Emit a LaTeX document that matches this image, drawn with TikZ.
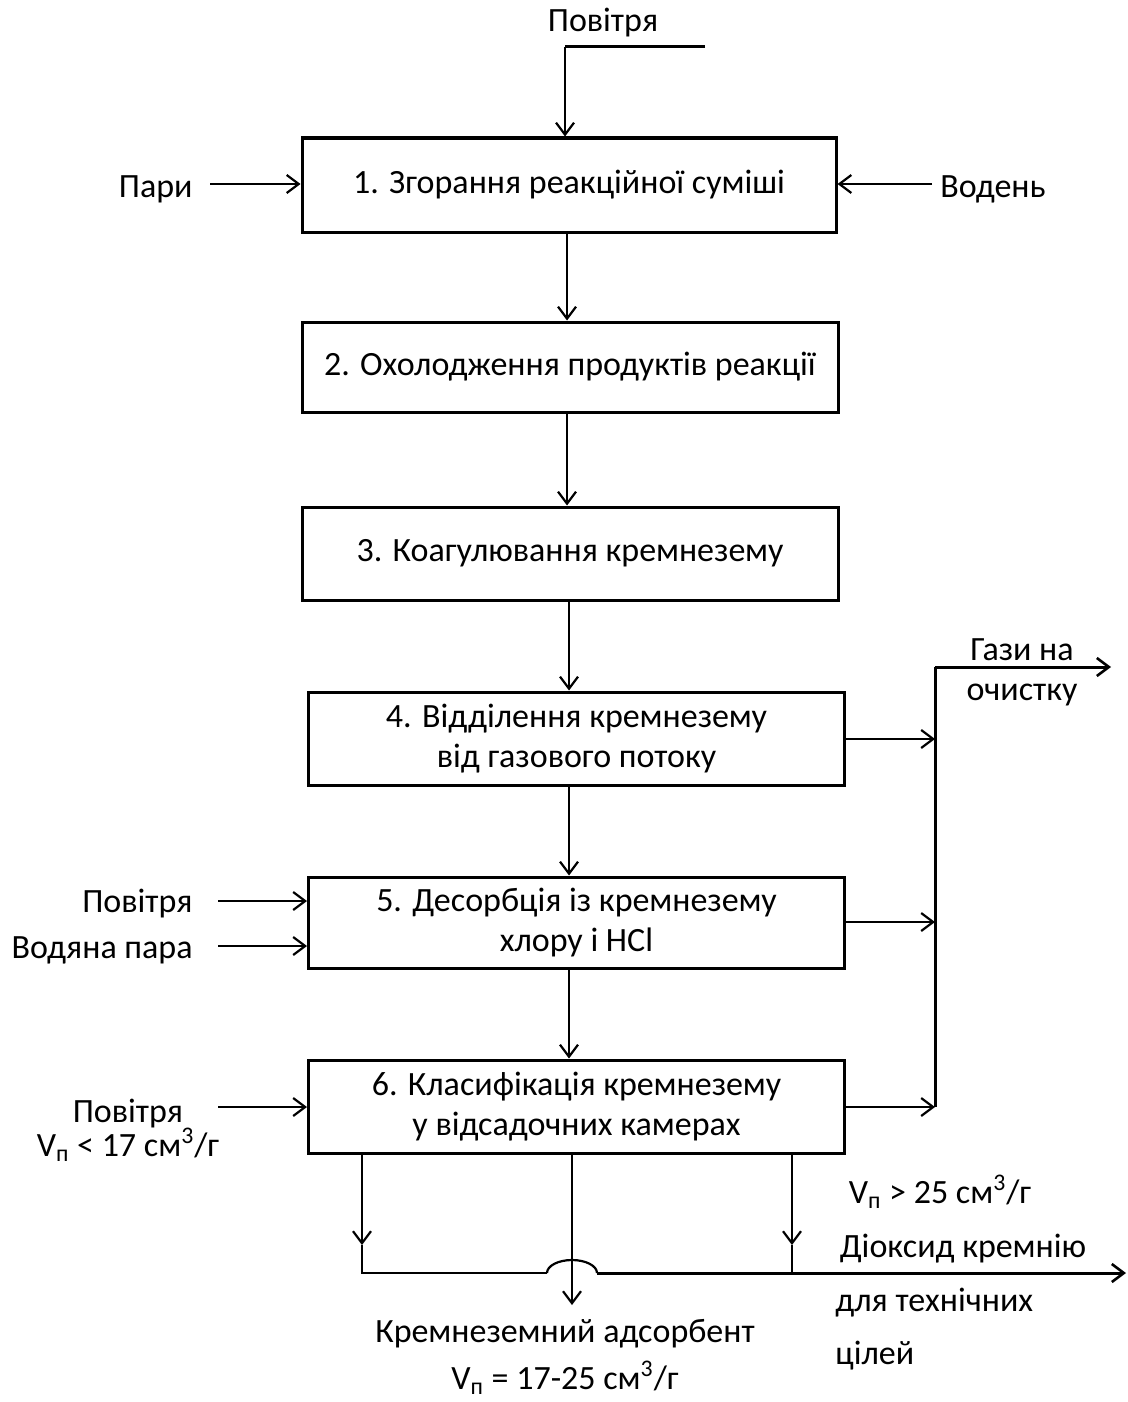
\documentclass[tikz,border=0pt]{standalone}
\usepackage{fontspec}
\setmainfont{Carlito}
\usetikzlibrary{arrows.meta}
\tikzset{
  box/.style={draw, line width=1.5pt, minimum width=268pt, minimum height=46.5pt, inner sep=0pt, align=center},
  arr/.style={line width=1.1pt, -{Straight Barb[length=6pt,width=9pt,line width=1.1pt]}},
  thickarr/.style={line width=1.5pt, -{Straight Barb[length=6pt,width=9pt,line width=1.3pt]}},
  plain/.style={line width=1.1pt},
  thickline/.style={line width=1.5pt},
  lbl/.style={inner sep=0pt}
}
\newcommand{\Vp}{V\textsubscript{п}}
\begin{document}
\begin{tikzpicture}[x=0.5pt,y=-0.5pt, font=\fontsize{17}{20}\selectfont]
\useasboundingbox (0,0) rectangle (1128,1402);

% boxes
\node[box, minimum width=267pt, minimum height=47pt] (b1) at (569,185) {1. Згорання реакційної суміші};
\node[box, minimum height=45pt] (b2) at (570,367) {2. Охолодження продуктів реакції};
\node[box] (b3) at (570,553.5) {3. Коагулювання кремнезему};
\node[box] (b4) at (576.5,738.5) {4. Відділення кремнезему\\від газового потоку};
\node[box, minimum height=45.5pt] (b5) at (576.5,922.5) {5. Десорбція із кремнезему\\хлору і HCl};
\node[box] (b6) at (576.5,1106.5) {6. Класифікація кремнезему\\у відсадочних камерах};

% top air input
\node[lbl, anchor=base] (air1) at (603,32) {Повітря};
\coordinate (a1s) at (705,47);
\coordinate (a1c) at (565,47);
\draw[thickline] (a1s) -- (a1c);
\draw[arr] (a1c) -- (a1c |- b1.north);

% side inputs of box 1
\node[lbl, anchor=base east] (pari) at (193,197) {Пари};
\coordinate (pari0) at (210,184);
\draw[arr] (pari0) -- (pari0 -| b1.west);
\node[lbl, anchor=base west] (vod) at (940,197) {Водень};
\coordinate (vod0) at (932,184);
\draw[arr] (vod0) -- (vod0 -| b1.east);

% main chain
\coordinate (c12) at (567,0);
\draw[arr] (c12 |- b1.south) -- (c12 |- b2.north);
\draw[arr] (c12 |- b2.south) -- (c12 |- b3.north);
\coordinate (c34) at (569,0);
\draw[arr] (c34 |- b3.south) -- (c34 |- b4.north);
\draw[arr] (c34 |- b4.south) -- (c34 |- b5.north);
\draw[arr] (c34 |- b5.south) -- (c34 |- b6.north);

% gas collector
\coordinate (gtop) at (935,667);
\coordinate (gbot) at (935,1107);
\coordinate (gout) at (1111,667);
\draw[thickline] (gbot) -- (gtop);
\draw[thickarr] (gtop) -- (gout);
\node[lbl, anchor=base] (gas1) at (1022,660) {Гази на};
\node[lbl, anchor=base] (gas2) at (1022,700) {очистку};
\coordinate (g4) at (0,739);
\draw[arr] (g4 -| b4.east) -- (g4 -| gtop);
\coordinate (g5) at (0,922);
\draw[arr] (g5 -| b5.east) -- (g5 -| gtop);
\coordinate (g6) at (0,1107);
\draw[arr] (g6 -| b6.east) -- (g6 -| gtop);

% inputs of box 5
\node[lbl, anchor=base east] (air5) at (193,912) {Повітря};
\coordinate (air5a) at (218,901);
\draw[arr] (air5a) -- (air5a -| b5.west);
\node[lbl, anchor=base east] (steam) at (193,958) {Водяна пара};
\coordinate (steama) at (218,946);
\draw[arr] (steama) -- (steama -| b5.west);

% inputs of box 6
\node[lbl, anchor=base] (air6) at (128,1122) {Повітря};
\node[lbl, anchor=base] (vp1) at (128,1156) {\Vp{} < 17 см\textsuperscript{3}/г};
\coordinate (air6a) at (218,1107);
\draw[arr] (air6a) -- (air6a -| b6.west);

% outputs of box 6
\coordinate (L) at (362,1245);
\coordinate (Lc) at (362,1273);
\coordinate (R) at (792,1245);
\coordinate (Rc) at (792,1273);
\coordinate (M) at (572,1305);
\coordinate (hopL) at (547,1273);
\coordinate (hopR) at (597,1273);
\coordinate (out) at (1126,1273);
\draw[arr] (L |- b6.south) -- (L);
\draw[plain] (L) -- (Lc) -- (hopL);
\draw[plain] (hopL) arc[start angle=180, end angle=360, x radius=25, y radius=13];
\draw[thickarr] (hopR) -- (out);
\draw[arr] (R |- b6.south) -- (R);
\draw[plain] (R) -- (Rc);
\draw[arr] (M |- b6.south) -- (M);

% output labels
\node[lbl, anchor=base] (vp2) at (940,1203) {\Vp{} > 25 см\textsuperscript{3}/г};
\node[lbl, anchor=base] (dio) at (963,1257) {Діоксид кремнію};
\node[lbl, anchor=base west] (tech1) at (835,1311) {для технічних};
\node[lbl, anchor=base west] (tech2) at (835,1364) {цілей};
\node[lbl, anchor=base] (ads1) at (565,1342) {Кремнеземний адсорбент};
\node[lbl, anchor=base] (ads2) at (565,1389) {\Vp{} = 17-25 см\textsuperscript{3}/г};
\end{tikzpicture}
\end{document}
